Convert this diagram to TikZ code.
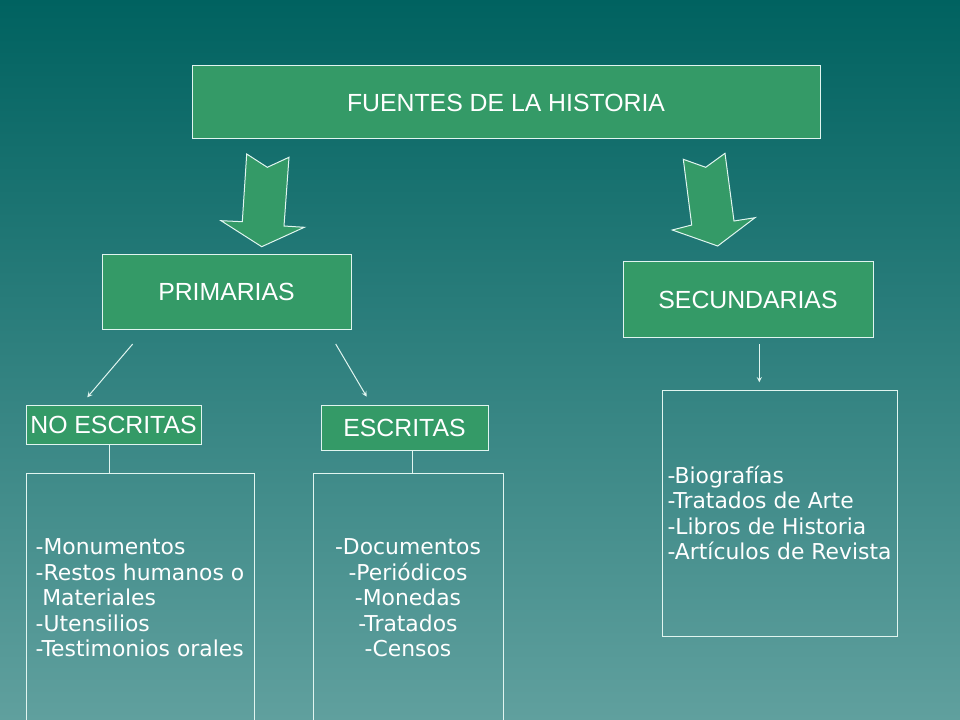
\documentclass[tikz,border=0pt]{standalone}
\usepackage{fontspec}
\setmainfont{Liberation Sans}
\newfontfamily\listafont{DejaVu Sans}

\definecolor{fondoarriba}{RGB}{0,98,96}
\definecolor{fondoabajo}{RGB}{96,160,158}
\definecolor{verdecaja}{RGB}{52,154,103}
\definecolor{borde}{RGB}{225,245,240}
\newdimen\pix \pix=0.75pt

\tikzset{
  caja/.style={draw=borde, fill=verdecaja, line width=0.75pt, text=white, inner sep=0pt, font=\fontsize{18.6}{22}\selectfont},
  lista/.style={draw=borde, line width=0.75pt, text=white, inner sep=0pt, font=\listafont\fontsize{16.4}{19.1}\selectfont},
  flecha/.style={-stealth, draw=borde, line width=0.75pt},
  linea/.style={draw=borde, line width=0.75pt},
  gruesa/.style={fill=verdecaja, draw=borde, line width=0.75pt, line join=miter}
}

\begin{document}
\begin{tikzpicture}[x=0.75pt,y=-0.75pt]
\useasboundingbox (0,0) rectangle (960,720);
\clip (0,0) rectangle (960,720);
\shade[top color=fondoarriba, bottom color=fondoabajo] (0,0) rectangle (960,720); % fondo

% cajas
\node[caja, minimum width=628\pix, minimum height=73\pix] (fuentes) at (506,102.5) {FUENTES DE LA HISTORIA};
\node[caja, minimum width=249\pix, minimum height=74\pix] (primarias) at (226.5,292) {PRIMARIAS};
\node[caja, minimum width=250\pix, minimum height=75\pix] (secundarias) at (748,299.5) {SECUNDARIAS};
\node[caja, minimum width=175\pix, minimum height=39\pix] (noescritas) at (113.5,424.5) {NO ESCRITAS};
\node[caja, minimum width=167\pix, minimum height=45\pix] (escritas) at (404.5,427.5) {ESCRITAS};

% listas
\node[lista, align=left, minimum width=228\pix, minimum height=250\pix] (listano) at (140,598)
  {-Monumentos\\-Restos humanos o\\\hspace*{5pt}Materiales\\-Utensilios\\-Testimonios orales};
\node[lista, align=center, minimum width=190\pix, minimum height=250\pix] (listaes) at (408,598)
  {-Documentos\\-Periódicos\\-Monedas\\-Tratados\\-Censos};
\node[lista, align=left, minimum width=235\pix, minimum height=246\pix] (listasec) at (779.5,513)
  {-Biografías\\-Tratados de Arte\\-Libros de Historia\\-Artículos de Revista};

% flechas gruesas
\draw[gruesa] (246.7,154)--(267.3,167.3)--(289,157.3)--(284,226)--(304.3,227.3)--(261.7,246.7)--(221,220.7)--(242.3,221.7)--cycle;
\draw[gruesa] (683.3,159.3)--(705.7,167.3)--(725,153.3)--(734,221)--(755,217.7)--(717.7,246)--(672.3,230)--(691.7,225)--cycle;

% flechas finas
\coordinate (pa) at (132.7,344);
\coordinate (pb) at (87.3,397.3);
\coordinate (pc) at (335.7,344);
\coordinate (pd) at (366.7,396.7);
\coordinate (sa) at (759.3,344);
\coordinate (sb) at (759.3,382.3);
\draw[flecha] (pa) -- (pb);
\draw[flecha] (pc) -- (pd);
\draw[flecha] (sa) -- (sb);

% lineas a las listas
\draw[linea] ([xshift=-3pt]noescritas.south) -- ([xshift=-3pt]noescritas.south |- listano.north);
\draw[linea] ([xshift=6pt]escritas.south) -- ([xshift=6pt]escritas.south |- listaes.north);
\end{tikzpicture}
\end{document}
